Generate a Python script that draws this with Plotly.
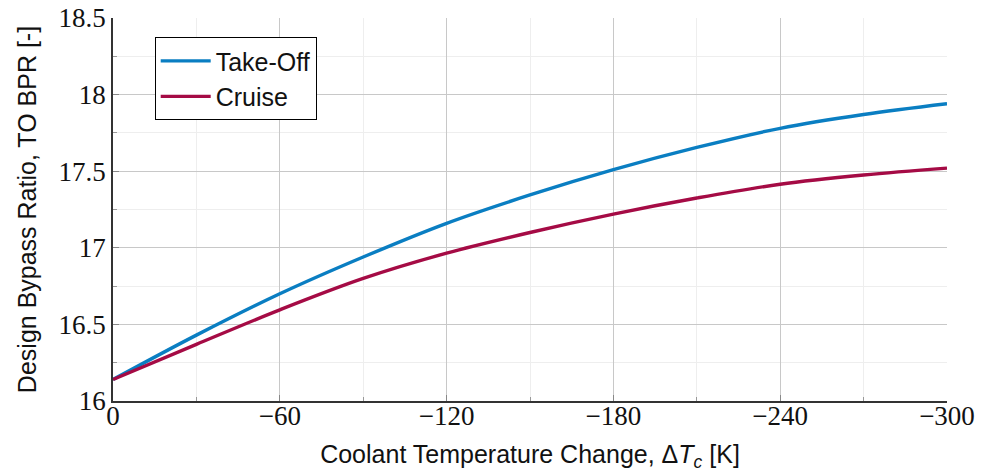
import plotly.graph_objects as go

delta_t = [0, -30, -60, -90, -120, -150, -180, -210, -240, -270, -300]
takeoff_bpr = [16.14, 16.43, 16.70, 16.94, 17.16, 17.345, 17.51, 17.655, 17.78, 17.87, 17.94]
cruise_bpr = [16.14, 16.37, 16.595, 16.80, 16.965, 17.10, 17.22, 17.325, 17.415, 17.475, 17.52]

x_tickvals = [0, -60, -120, -180, -240, -300]
x_ticktext = ["0", "−60", "−120", "−180", "−240", "−300"]
y_tickvals = [16, 16.5, 17, 17.5, 18, 18.5]
y_ticktext = ["16", "16.5", "17", "17.5", "18", "18.5"]

fig = go.Figure()
fig.add_trace(go.Scatter(x=delta_t, y=takeoff_bpr, mode="lines", name="Take-Off",
                         line=dict(color="#0A7EC2", width=3.4, shape="spline")))
fig.add_trace(go.Scatter(x=delta_t, y=cruise_bpr, mode="lines", name="Cruise",
                         line=dict(color="#A50B45", width=3.4, shape="spline")))

serif = "Liberation Serif"
sans = "Liberation Sans"

fig.update_layout(
    width=981, height=473,
    margin=dict(l=113, r=34, t=18, b=72),
    paper_bgcolor="white", plot_bgcolor="white",
    font=dict(family=sans, size=20, color="#111"),
    legend=dict(x=0.05, y=0.95, xanchor="left", yanchor="top",
                bordercolor="black", borderwidth=1, bgcolor="white",
                font=dict(family=sans, size=25, color="#111"),
                itemwidth=50, tracegroupgap=0),
    xaxis=dict(
        range=[0, -300], autorange=False, automargin=False,
        tickvals=x_tickvals, ticktext=x_ticktext,
        tickfont=dict(family=serif, size=27, color="#111"),
        ticklabelstandoff=-10,
        showgrid=True, gridcolor="#C8C8C8", gridwidth=1,
        showline=True, linecolor="#333", linewidth=1.5,
        ticks="inside", ticklen=6, tickcolor="#888",
        minor=dict(dtick=30, tick0=0, showgrid=True, gridcolor="#EEEEEE",
                   ticks="inside", ticklen=4, tickcolor="#999"),
        zeroline=False,
        title=dict(text="Coolant Temperature Change, Δ<i>T<sub>c</sub></i> [K]",
                   font=dict(family=sans, size=25, color="#111")),
    ),
    yaxis=dict(
        range=[16, 18.5], autorange=False, automargin=False,
        tickvals=y_tickvals, ticktext=y_ticktext,
        tickfont=dict(family=serif, size=27, color="#111"),
        showgrid=True, gridcolor="#C8C8C8", gridwidth=1,
        showline=True, linecolor="#333", linewidth=1.5,
        ticks="inside", ticklen=6, tickcolor="#888",
        minor=dict(dtick=0.25, tick0=16, showgrid=True, gridcolor="#EEEEEE",
                   ticks="inside", ticklen=4, tickcolor="#999"),
        zeroline=False,
        title=dict(text="Design Bypass Ratio, TO BPR [-]",
                   font=dict(family=sans, size=25, color="#111")),
    ),
)

fig.write_html("out.html")
